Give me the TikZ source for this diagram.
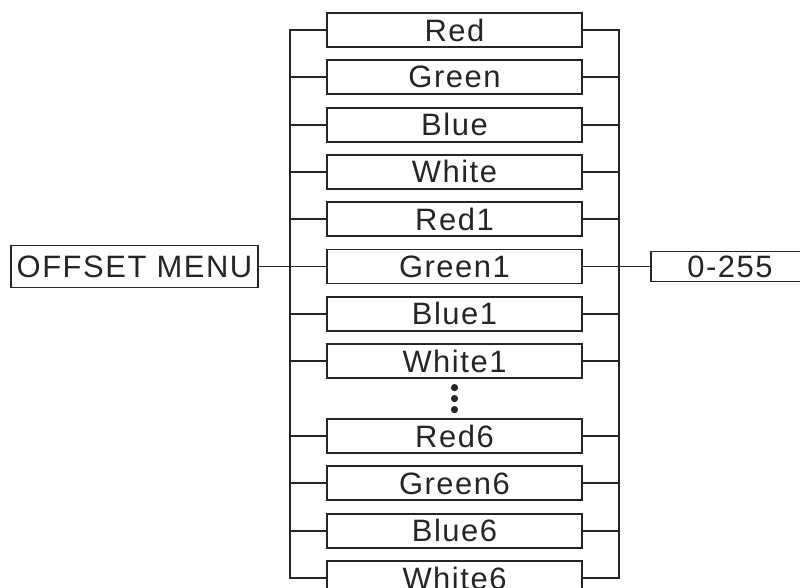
\documentclass[tikz,border=0pt]{standalone}
\usepackage{fontspec}
\setmainfont{Liberation Sans}[LetterSpace=5]
\usetikzlibrary{positioning}
\usetikzlibrary{calc}
\definecolor{ink}{RGB}{40,36,36}

\begin{document}
\begin{tikzpicture}
	[every node/.style={draw=ink,line width=1.3pt,text=ink,inner sep=0pt,outer sep=0pt,
		font=\fontsize{22}{26}\selectfont},
	 item/.style={minimum width=6.375cm,minimum height=0.85cm},
	 connect/.style={draw=ink,line width=1.3pt},
	 node distance=0.3325cm and 1.725cm]
	\clip (0,0) rectangle (20,-14.7);
	\node (red) [item] at (11.3625,-0.75) {Red};
	\node (green) [item,below=of red] {Green};
	\node (blue) [item,below=of green] {Blue};
	\node (white) [item,below=of blue] {White};
	\node (red1) [item,below=of white] {Red1};
	\node (green1) [item,below=of red1] {Green1};
	\node (blue1) [item,below=of green1] {Blue1};
	\node (white1) [item,below=of blue1] {White1};
	\node (red6) [item,below=1.025cm of white1] {Red6};
	\node (green6) [item,below=of red6] {Green6};
	\node (blue6) [item,below=of green6] {Blue6};
	\node (white6) [item,below=of blue6] {White6};
	\node (menu) [left=of green1,minimum width=6.175cm,minimum height=1.05cm] {OFFSET MENU};
	\node (range) [right=of green1,minimum width=3.95cm,minimum height=0.75cm] {0-255};
	% the two bus lines
	\coordinate (lbus) at (7.25,0);
	\coordinate (rbus) at (15.475,0);
	\draw [connect] (red.west) -- (red.west -| lbus) -- (white6.west -| lbus) -- (white6.west);
	\draw [connect] (red.east) -- (red.east -| rbus) -- (white6.east -| rbus) -- (white6.east);
	\foreach \n in {green,blue,white,red1,green1,blue1,white1,red6,green6,blue6}
		\draw [connect] (\n.west -| lbus) -- (\n.west)
			(\n.east) -- (\n.east -| rbus);
	\draw [connect] (menu) -- (green1);
	\draw [connect] (green1) -- (range);
	% dots
	\coordinate (dots) at ($(white1.south)!0.5!(red6.north)$);
	\fill [ink] (dots) circle (0.09) ++(0,0.275) circle (0.09) ++(0,-0.55) circle (0.09);
\end{tikzpicture}
\end{document}
